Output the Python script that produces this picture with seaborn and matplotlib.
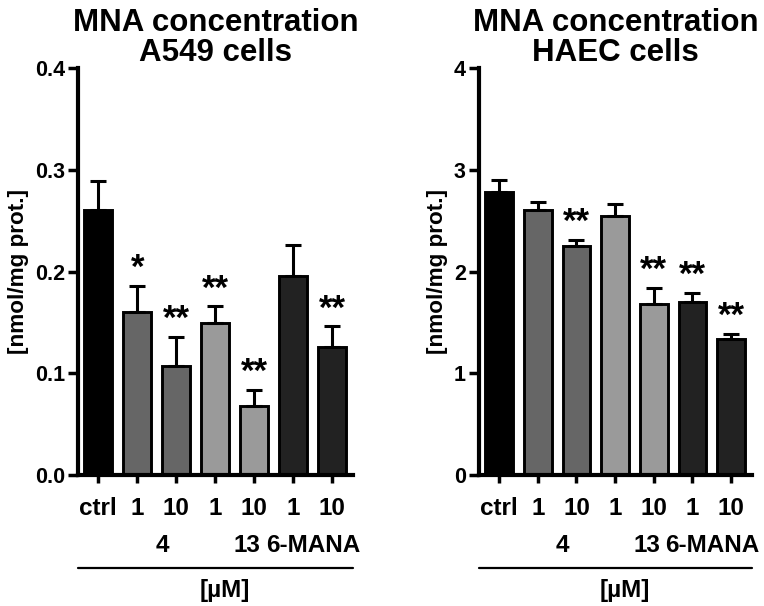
import matplotlib
matplotlib.use("Agg")
import matplotlib.pyplot as plt
import seaborn as sns
import pandas as pd
import numpy as np

# ---- data ----
categories = ["ctrl", "4_1", "4_10", "13_1", "13_10", "M_1", "M_10"]
tick_labels = ["ctrl", "1", "10", "1", "10", "1", "10"]
group_labels = ["4", "13", "6-MANA"]
group_pos = [1.64, 3.82, 5.52]
bar_colors = ["#000000", "#666666", "#666666", "#9a9a9a", "#9a9a9a", "#222222", "#222222"]

a549_mean = [0.260, 0.160, 0.107, 0.149, 0.068, 0.196, 0.126]
a549_err = [0.029, 0.026, 0.029, 0.017, 0.016, 0.030, 0.020]
a549_stars = ["", "*", "**", "**", "**", "", "**"]

haec_mean = [2.78, 2.60, 2.25, 2.55, 1.68, 1.70, 1.34]
haec_err = [0.12, 0.08, 0.06, 0.11, 0.16, 0.09, 0.05]
haec_stars = ["", "", "**", "", "**", "**", "**"]

titles = ["MNA concentration\nA549 cells", "MNA concentration\nHAEC cells"]
ylabel = "[nmol/mg prot.]"
xlabel = "[µM]"
yticks_a = [0.0, 0.1, 0.2, 0.3, 0.4]
yticks_h = [0, 1, 2, 3, 4]

sns.set_style("ticks")
plt.rcParams["font.family"] = ["Liberation Sans", "DejaVu Sans"]
plt.rcParams["font.weight"] = "bold"
for k in ["text.color", "axes.labelcolor", "xtick.color", "ytick.color", "axes.edgecolor"]:
    plt.rcParams[k] = "black"

W, H = 764, 606
fig = plt.figure(figsize=(W / 100, H / 100), dpi=100)

def px_axes(x0, x1, ytop, ybot):
    return fig.add_axes([x0 / W, (H - ybot) / H, (x1 - x0) / W, (ybot - ytop) / H])

ax1 = px_axes(78, 353, 68, 475)
ax2 = px_axes(479, 752, 68, 475)

panels = [
    (ax1, a549_mean, a549_err, a549_stars, yticks_a, "{:.1f}", 0.4, titles[0]),
    (ax2, haec_mean, haec_err, haec_stars, yticks_h, "{:.0f}", 4, titles[1]),
]

TICKFS = 17.5
for ax, mean, err, stars, yt, fmt, ymax, title in panels:
    df = pd.DataFrame({"cat": categories, "val": mean})
    sns.barplot(data=df, x="cat", y="val", hue="cat", palette=bar_colors,
                order=categories, hue_order=categories, legend=False,
                width=0.72, edgecolor="black", linewidth=2.1, ax=ax, saturation=1)
    xs = np.arange(len(categories))
    ax.errorbar(xs, mean, yerr=[np.zeros(len(err)), err], fmt="none",
                ecolor="black", elinewidth=2.2, capsize=6, capthick=2.2, zorder=1)
    for x, m, e, s in zip(xs, mean, err, stars):
        if s:
            ax.annotate(s, xy=(x, m + e), xytext=(0, 5.5), textcoords="offset points",
                        ha="center", va="baseline", fontsize=25, fontweight="bold")
    ax.set_xlim(-0.52, 6.54)
    ax.set_ylim(0, ymax)
    ax.set_yticks(yt)
    ax.set_yticklabels([fmt.format(v) for v in yt], fontsize=15.5, fontweight="bold")
    ax.set_xticks(xs)
    ax.set_xticklabels(tick_labels, fontsize=TICKFS, fontweight="bold")
    ax.tick_params(axis="x", length=5.5, width=2.5, pad=10.5)
    ax.tick_params(axis="y", length=7.5, width=2.5, pad=2)
    ax.set_xlabel("")
    ax.set_ylabel(ylabel, fontsize=16.2, fontweight="bold", labelpad=4)
    for sp in ["top", "right"]:
        ax.spines[sp].set_visible(False)
    for sp in ["left", "bottom"]:
        ax.spines[sp].set_linewidth(3.0)
    ax.set_title(title, fontsize=22.5, fontweight="bold", pad=5, linespacing=1.0)
    tr = ax.get_xaxis_transform()
    for lab, gx in zip(group_labels, group_pos):
        ax.text(gx, -0.174, lab, transform=tr, ha="center", va="center",
                fontsize=TICKFS, fontweight="bold")
    ax.plot([0, 1], [-0.2285, -0.2285], transform=ax.transAxes, color="black",
            lw=1.6, clip_on=False)
    ax.text(3.26, -0.283, xlabel, transform=tr, ha="center", va="center",
            fontsize=TICKFS, fontweight="bold")

fig.savefig("out.png", dpi=100)
